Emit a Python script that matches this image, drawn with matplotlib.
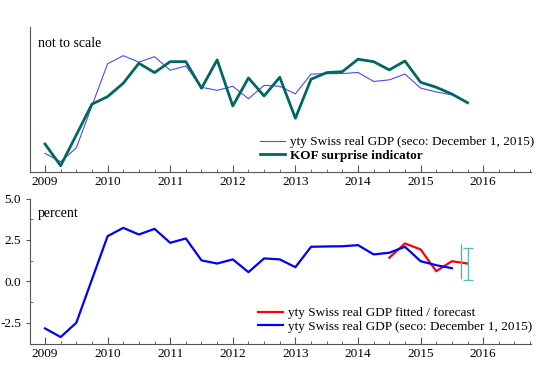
import matplotlib
matplotlib.use("Agg")
import matplotlib.pyplot as plt
import numpy as np

plt.rcParams['font.family'] = ['Liberation Serif', 'DejaVu Serif']

# quarters 2009Q1 .. 2015Q4
quarters = [2009 + 0.25 * i for i in range(28)]

# yty Swiss real GDP (seco), 2009Q1 - 2015Q3
gdp = [-2.83, -3.35, -2.49, 0.12, 2.73, 3.23, 2.83, 3.17,
       2.33, 2.59, 1.27, 1.08, 1.33, 0.56, 1.39, 1.33,
       0.86, 2.09, 2.11, 2.12, 2.19, 1.63, 1.73, 2.09,
       1.22, 0.98, 0.80]

# KOF surprise indicator (rescaled onto GDP), 2009Q1 - 2015Q4
kof = [-2.25, -3.60, -1.69, 0.22, 0.69, 1.52, 2.76, 2.18,
       2.86, 2.86, 1.21, 2.97, 0.11, 1.85, 0.73, 1.89,
       -0.65, 1.77, 2.18, 2.24, 3.01, 2.86, 2.35, 2.90,
       1.58, 1.27, 0.85, 0.31]

# fitted / forecast, 2014Q3 - 2015Q4
fit_x = [2014.5, 2014.75, 2015.0, 2015.25, 2015.5, 2015.75]
fit = [1.43, 2.29, 1.93, 0.62, 1.22, 1.08]

# forecast bands
band1_x, band1_lo, band1_hi = 2015.65, 0.12, 2.27
band2_x, band2_lo, band2_hi = 2015.76, 0.08, 2.03

years = list(range(2009, 2017))

fig = plt.figure(figsize=(5.5, 3.67), dpi=100)
ax1 = fig.add_axes([0.0545, 0.5313, 0.911, 0.3951])
ax2 = fig.add_axes([0.0545, 0.0627, 0.911, 0.3964])

for ax in (ax1, ax2):
    for s in ('top', 'right'):
        ax.spines[s].set_visible(False)
    ax.spines['left'].set_color('#555555')
    ax.spines['bottom'].set_color('#555555')
    ax.set_xlim(2008.76, 2016.764)
    ax.set_xticks(years)
    ax.set_xticks(np.arange(2009, 2016.8, 0.25), minor=True)
    ax.tick_params(axis='x', which='major', direction='in', length=5, pad=3, labelsize=9.5, color='#555555')
    ax.tick_params(axis='x', which='minor', direction='in', length=2.5, color='#555555')

# --- top panel
ax1.plot(quarters[:len(gdp)], gdp, color='#4a4aff', lw=0.8,
         label='yty Swiss real GDP (seco: December 1, 2015)')
ax1.plot(quarters, kof, color='#00695e', lw=2.0, label='KOF surprise indicator')
ax1.set_ylim(-3.99, 5.01)
ax1.set_yticks([])
ax1.text(0.016, 0.885, 'not to scale', transform=ax1.transAxes, fontsize=10, va='center')
leg1 = ax1.legend(loc='center left', bbox_to_anchor=(0.459, 0.16), frameon=False,
                  fontsize=9.5, handlelength=1.9, handletextpad=0.35, labelspacing=0.1,
                  borderpad=0, borderaxespad=0)
leg1.get_texts()[1].set_fontweight('bold')

# --- bottom panel
ax2.plot(fit_x, fit, color='#ff0000', lw=1.6, label='yty Swiss real GDP fitted / forecast')
ax2.plot(quarters[:len(gdp)], gdp, color='#0000ff', lw=1.6,
         label='yty Swiss real GDP (seco: December 1, 2015)')
ax2.vlines(band1_x, band1_lo, band1_hi, color='#4fb3b3', lw=1.0)
ax2.errorbar([band2_x], [(band2_lo + band2_hi) / 2], yerr=[[(band2_hi - band2_lo) / 2]],
             fmt='none', ecolor='#5fbaba', elinewidth=1.0, capsize=3.5, capthick=1.0)
ax2.set_ylim(-3.77, 5.0)
ax2.set_yticks([5.0, 2.5, 0.0, -2.5])
ax2.set_yticklabels(['5.0', '2.5', '0.0', '-2.5'])
ax2.set_yticks([3.75, 1.25, -1.25], minor=True)
ax2.tick_params(axis='y', which='major', direction='out', length=3, labelsize=9.5, color='#555555')
ax2.tick_params(axis='y', which='minor', direction='in', length=2, color='#555555')
ax2.text(0.016, 0.9, 'percent', transform=ax2.transAxes, fontsize=10, va='center')
ax2.legend(loc='center left', bbox_to_anchor=(0.455, 0.165), frameon=False,
           fontsize=9.5, handlelength=1.9, handletextpad=0.35, labelspacing=0.1,
           borderpad=0, borderaxespad=0)

fig.savefig('out.png', dpi=100)
